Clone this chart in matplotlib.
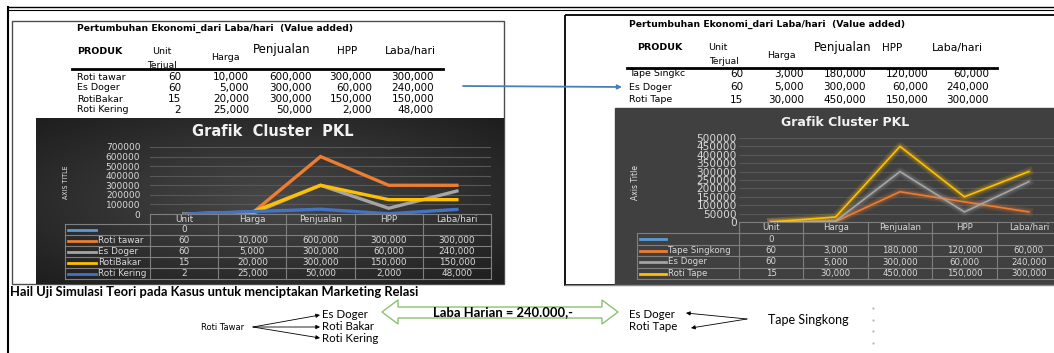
import numpy as np
import matplotlib
matplotlib.use("Agg")
import matplotlib.pyplot as plt
from matplotlib.patches import Rectangle, Polygon

W, H = 1054, 353

# ---- data ----
categories = ["Unit", "Harga", "Penjualan", "HPP", "Laba/hari"]
table_title = "Pertumbuhan Ekonomi_dari Laba/hari  (Value added)"

left_products = ["Roti tawar", "Es Doger", "RotiBakar", "Roti Kering"]
left_table_names = ["Roti tawar", "Es Doger", "RotiBakar", "Roti Kering"]
left_values = [
    [60, 10000, 600000, 300000, 300000],
    [60, 5000, 300000, 60000, 240000],
    [15, 20000, 300000, 150000, 150000],
    [2, 25000, 50000, 2000, 48000],
]
left_colors = ["#ED7D31", "#A5A5A5", "#FFC000", "#4472C4"]
left_yticks = [0, 100000, 200000, 300000, 400000, 500000, 600000, 700000]

right_products = ["Tape Singkong", "Es Doger", "Roti Tape"]
right_table_names = ["Tape Singkc", "Es Doger", "Roti Tape"]
right_values = [
    [60, 3000, 180000, 120000, 60000],
    [60, 5000, 300000, 60000, 240000],
    [15, 30000, 450000, 150000, 300000],
]
right_colors = ["#ED7D31", "#A5A5A5", "#FFC000"]
right_yticks = [0, 50000, 100000, 150000, 200000, 250000, 300000, 350000,
                400000, 450000, 500000]

blank_value = [0]          # the empty first series (only "Unit" = 0)
blank_color = "#5B9BD5"

# bottom diagram
source_left = "Roti Tawar"
targets_left = ["Es Doger", "Roti Bakar", "Roti Kering"]
source_right = "Tape Singkong"
targets_right = ["Es Doger", "Roti Tape"]
laba_text = "Laba Harian = 240.000,-"
bottom_title = "Hail Uji Simulasi Teori pada Kasus untuk menciptakan Marketing Relasi"

fig = plt.figure(figsize=(W / 100, H / 100), dpi=100)
base = fig.add_axes([0, 0, 1, 1])
base.set_xlim(0, W)
base.set_ylim(H, 0)
base.axis("off")


def px_axes(x0, y0, x1, y1):
    ax = fig.add_axes([x0 / W, 1 - y1 / H, (x1 - x0) / W, (y1 - y0) / H])
    return ax


def hline(x0, x1, y, **kw):
    base.plot([x0, x1], [y, y], **kw)


def vline(x, y0, y1, **kw):
    base.plot([x, x], [y0, y1], **kw)


# ---- outer frames ----
hline(8, W, 7, color="black", lw=1.0)
hline(8, W, 9.5, color="black", lw=0.8)
vline(8, 7, H, color="black", lw=1.5)
base.add_patch(Rectangle((12, 21), 492, 263, fill=False, ec="#4d4d4d", lw=1.0))
base.add_patch(Rectangle((565, 15), 500, 270, fill=False, ec="black", lw=1.3))
hline(565, W, 285, color="#888888", lw=1.0)


# ---- top tables ----
def top_table(tx, title_y, rows_y, num_right, names, values, head_pos, line_x):
    base.text(tx, title_y, table_title, fontsize=6.7, fontweight="bold",
              va="center", ha="left")
    hp = head_pos
    base.text(*hp["PRODUK"], "PRODUK", fontsize=6.8, fontweight="bold", va="center")
    base.text(*hp["Unit"], "Unit", fontsize=6.8, va="center")
    base.text(*hp["Terjual"], "Terjual", fontsize=6.5, va="center")
    base.text(*hp["Harga"], "Harga", fontsize=6.8, va="center")
    base.text(*hp["Penjualan"], "Penjualan", fontsize=8.5, va="center")
    base.text(*hp["HPP"], "HPP", fontsize=7.5, va="center")
    base.text(*hp["Laba/hari"], "Laba/hari", fontsize=7.8, va="center")
    hline(line_x[0], line_x[1], line_x[2], color="black", lw=2.0)
    for name, vals, y in zip(names, values, rows_y):
        base.text(tx, y, name, fontsize=6.8, va="center")
        for v, xr in zip(vals, num_right):
            base.text(xr, y, f"{v:,}", fontsize=7.5, va="center", ha="right")


top_table(77, 28, [77, 88, 99, 110], [181, 249, 312, 372, 434],
          left_table_names, left_values,
          {"PRODUK": (77, 52), "Unit": (152, 51), "Terjual": (147, 65),
           "Harga": (211, 58), "Penjualan": (253, 50), "HPP": (337, 51),
           "Laba/hari": (385, 51)},
          (72, 443, 69))
top_table(629, 24, [74, 87, 100], [743, 804, 866, 928, 989],
          right_table_names, right_values,
          {"PRODUK": (637, 48), "Unit": (708, 48), "Terjual": (709, 62),
           "Harga": (767, 55), "Penjualan": (814, 48), "HPP": (882, 48),
           "Laba/hari": (932, 48)},
          (627, 997, 68))

# blue connector arrow
base.annotate("", xy=(622, 87), xytext=(463, 86),
              arrowprops=dict(arrowstyle="-|>", color="#4a7ebb", lw=1.3,
                              mutation_scale=6, shrinkA=0, shrinkB=0))

# ---- chart backgrounds ----
gx, gy = np.meshgrid(np.linspace(-1, 1, 200), np.linspace(-1, 1, 100))
grad = np.clip(np.sqrt(gx ** 2 + gy ** 2) / 1.4, 0, 1)
c0, c1 = np.array([0x48, 0x48, 0x48]) / 255, np.array([0x1e, 0x1e, 0x1e]) / 255
img = c0[None, None, :] * (1 - grad[..., None]) + c1[None, None, :] * grad[..., None]
base.imshow(img, extent=(36, 504, 284, 118), aspect="auto", zorder=1)
base.set_xlim(0, W)
base.set_ylim(H, 0)
base.add_patch(Rectangle((615, 108), 460, 176, color="#404040", zorder=1))


# ---- charts ----
def chart(x0, x1, y_top, y_zero, yticks, values, colors, glow, lw, tick_fs, pad):
    ax = px_axes(x0, y_top, x1, y_zero)
    ax.set_facecolor("none")
    xs = np.arange(len(categories))
    ax.plot(xs[:len(blank_value)], blank_value, color=blank_color, lw=lw)
    for vals, col in zip(values, colors):
        if glow:
            ax.plot(xs, vals, color=col, lw=6, alpha=0.13, solid_joinstyle="round")
            ax.plot(xs, vals, color=col, lw=3.5, alpha=0.2, solid_joinstyle="round")
        ax.plot(xs, vals, color=col, lw=lw, solid_joinstyle="miter")
    ax.set_xlim(-0.5, len(categories) - 0.5)
    ax.set_ylim(yticks[0], yticks[-1])
    ax.set_yticks(yticks)
    ax.set_yticklabels([str(t) for t in yticks], color="#d9d9d9", fontsize=tick_fs)
    ax.set_xticks([])
    ax.tick_params(axis="y", length=0, pad=pad)
    ax.grid(axis="y", color="#585858", lw=0.8)
    ax.set_axisbelow(True)
    for s in ax.spines.values():
        s.set_visible(False)
    return ax


def chart_table(leg_x, col_edges, row_edges, products, values, colors, fs, line_len):
    grid = dict(color="#7f7f7f", lw=0.8, zorder=3)
    # header row (no legend cell)
    hline(col_edges[0], col_edges[-1], row_edges[0], **grid)
    for y in row_edges[1:]:
        hline(leg_x, col_edges[-1], y, **grid)
    vline(leg_x, row_edges[1], row_edges[-1], **grid)
    for x in col_edges:
        vline(x, row_edges[0], row_edges[-1], **grid)
    for i, cat in enumerate(categories):
        cx = (col_edges[i] + col_edges[i + 1]) / 2
        base.text(cx, (row_edges[0] + row_edges[1]) / 2, cat, color="#d9d9d9",
                  fontsize=fs, ha="center", va="center", zorder=4)
    names = [""] + products
    rows = [blank_value] + values
    cols = [blank_color] + colors
    for r, (name, vals, col) in enumerate(zip(names, rows, cols)):
        yc = (row_edges[r + 1] + row_edges[r + 2]) / 2
        hline(leg_x + 3, leg_x + 3 + line_len, yc, color=col, lw=2, zorder=4)
        base.text(leg_x + 5 + line_len, yc, name, color="#d9d9d9", fontsize=fs,
                  ha="left", va="center", zorder=4)
        for i, v in enumerate(vals):
            cx = (col_edges[i] + col_edges[i + 1]) / 2
            base.text(cx, yc, f"{v:,}", color="#d9d9d9", fontsize=fs,
                      ha="center", va="center", zorder=4)


# left chart
chart(150, 491, 147, 214, left_yticks, left_values, left_colors,
      glow=False, lw=2.4, tick_fs=6.5, pad=7)
base.text(273, 132, "Grafik  Cluster  PKL", color="#f2f2f2", fontsize=10.5,
          fontweight="bold", ha="center", va="center", zorder=4)
base.text(66, 182, "AXIS TITLE", color="#e6e6e6", fontsize=5, rotation=90,
          ha="center", va="center", zorder=4, fontstretch="condensed")
lcols = list(np.linspace(150, 491, 6))
chart_table(65, lcols, [214, 224, 235, 246, 257, 268, 279], left_products,
            left_values, left_colors, 6.4, 28)

# right chart
rcols = list(np.linspace(739, 1061, 6))
chart(739, 1061, 138, 222, right_yticks, right_values, right_colors,
      glow=True, lw=1.2, tick_fs=7.6, pad=1.5)
base.text(845, 122, "Grafik Cluster PKL", color="#f2f2f2", fontsize=9,
          fontweight="bold", ha="center", va="center", zorder=4)
base.text(636, 182, "Axis Title", color="#e6e6e6", fontsize=5.5, rotation=90,
          ha="center", va="center", zorder=4)
chart_table(637, rcols, [222, 233, 245, 256, 268, 279], right_products,
            right_values, right_colors, 6.2, 26)

# ---- bottom section ----
bf = "Lato"
base.text(10, 292, bottom_title, fontsize=9.3, fontweight="bold", family=bf,
          va="center")
base.text(201, 327, source_left, fontsize=6, va="center")
arr = dict(arrowstyle="-|>", color="black", lw=0.6, mutation_scale=6,
           shrinkA=0, shrinkB=0)
for name, y in zip(targets_left, [315, 327, 338]):
    base.annotate("", xy=(320, y), xytext=(253, 327), arrowprops=arr)
    base.text(322, y, name, fontsize=8.3, va="center", family=bf)

green = Polygon([(382, 312), (398, 300), (398, 307), (602, 307), (602, 300),
                 (618, 312), (602, 324), (602, 318), (398, 318), (398, 324)],
                closed=True, fc="white", ec="#8DC26F", lw=1.0)
base.add_patch(green)
base.text(503, 312.5, laba_text, fontsize=9.4, fontweight="bold",
          ha="center", va="center", family=bf)

for name, y in zip(targets_right, [315, 327]):
    base.text(629, y, name, fontsize=8.3, va="center", family=bf)
base.annotate("", xy=(686, 313), xytext=(747, 319), arrowprops=arr)
base.annotate("", xy=(691, 328), xytext=(747, 319), arrowprops=arr)
base.text(768, 320, source_right, fontsize=9, va="center", family=bf)
for y in [308, 320, 331, 343]:
    base.plot([873], [y], marker="s", ms=0.6, color="#bbbbbb")

fig.savefig("out.png", dpi=100)
